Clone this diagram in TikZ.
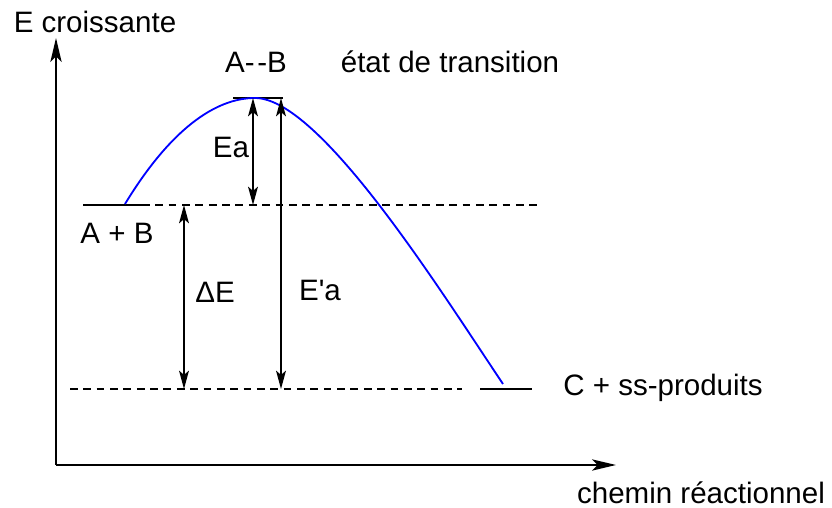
\documentclass[tikz,border=0pt]{standalone}
\usepackage{fontspec}
\setmainfont{Liberation Sans}
\usetikzlibrary{arrows.meta,positioning}

\tikzset{
    lbl/.style={font=\fontsize{21}{25}\selectfont, inner sep=0pt},
    axe/.style={line width=1.4pt, -{Stealth[length=17pt,width=8pt,inset=4pt]}},
    cote/.style={line width=1.4pt, {Stealth[length=13pt,width=7pt,inset=3pt]}-{Stealth[length=13pt,width=7pt,inset=3pt]}},
    niveau/.style={line width=1.4pt},
    pointille/.style={line width=1.4pt, dash pattern=on 5.5pt off 4pt},
}

\begin{document}
\begin{tikzpicture}
    \useasboundingbox (0,0) rectangle (20.8,12.7);
    % axes
    \coordinate (O) at (1.4,1.075);
    \coordinate (Ytip) at (1.4,11.75);
    \coordinate (Xtip) at (15.4,1.075);
    \draw[axe] (O) -- (Ytip);
    \draw[axe] (O) -- (Xtip);
    \node[lbl] (ylab) at (2.375,12.15) {E croissante};
    \node[lbl] (xlab) at (17.525,0.38) {chemin réactionnel};
    %%
    % niveaux d'energie
    \coordinate (T1) at (5.825,10.25);
    \coordinate (T2) at (7.075,10.25);
    \coordinate (R1) at (2.075,7.575);
    \coordinate (R2) at (3.55,7.575);
    \coordinate (R3) at (13.425,7.575);
    \coordinate (P0) at (1.75,2.975);
    \coordinate (P1) at (11.55,2.975);
    \coordinate (P2) at (12.0,2.975);
    \coordinate (P3) at (13.3,2.975);
    \draw[niveau] (T1) -- (T2);
    \draw[niveau] (R1) -- (R2);
    \draw[niveau] (P2) -- (P3);
    \draw[pointille] (R2) -- (R3);
    \draw[pointille] (P0) -- (P1);
    %%
    % courbe
    \coordinate (Cstart) at (3.125,7.6);
    \coordinate (Cpeak) at (6.375,10.25);
    \coordinate (Cend) at (12.575,3.1);
    \draw[blue, line width=1.3pt] (Cstart) .. controls (4.25,9.45) and (5.375,10.25) .. (Cpeak)
        .. controls (8.0,10.25) and (11.0,5.45) .. (Cend);
    %%
    % fleches
    \coordinate (Ea1) at (6.325,10.25);
    \coordinate (Ea2) at (6.325,7.575);
    \coordinate (Eb1) at (7.025,10.25);
    \coordinate (Eb2) at (7.025,2.975);
    \coordinate (dE1) at (4.6,7.575);
    \coordinate (dE2) at (4.6,2.975);
    \draw[cote] (Ea1) -- (Ea2);
    \draw[cote] (Eb1) -- (Eb2);
    \draw[cote] (dE1) -- (dE2);
    %%
    % textes
    \node[lbl] (ts) at (6.4,11.15) {A-\kern2pt-B};
    \node[lbl] (tstxt) at (11.25,11.15) {état de transition};
    \node[lbl] (Ea) at (5.775,9.025) {Ea};
    \node[lbl] (AB) at (2.925,6.875) {A + B};
    \node[lbl] (dE) at (5.375,5.4) {ΔE};
    \node[lbl] (Epa) at (8.0,5.45) {E\textquotesingle a};
    \node[lbl] (prod) at (16.575,3.0) {C + ss-produits};
\end{tikzpicture}
\end{document}
